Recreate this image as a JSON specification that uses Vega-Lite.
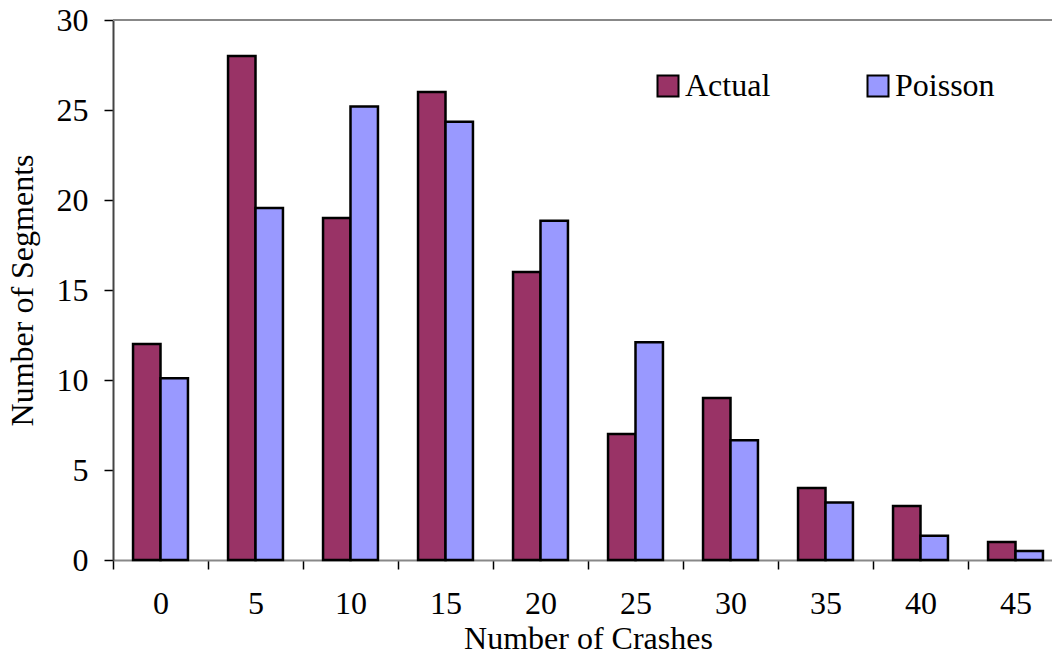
{
  "$schema": "https://vega.github.io/schema/vega-lite/v6.json",
  "autosize": {"type": "none"},
  "padding": {"left": 113, "top": 20, "right": 0, "bottom": 100},
  "width": 939,
  "height": 540,
  "config": {
    "view": {"stroke": null},
    "font": "Liberation Serif",
    "axis": {"labelFont": "Liberation Serif", "titleFont": "Liberation Serif", "labelColor": "#000", "titleColor": "#000", "titleFontWeight": "normal", "labelFontSize": 32, "titleFontSize": 32, "tickColor": "#000", "tickWidth": 1.5, "tickSize": 9, "grid": false},
    "legend": {"labelFont": "Liberation Serif", "labelFontSize": 32, "labelColor": "#000"}
  },
  "data": {
    "values": [
      {"crashes": 0, "series": "Actual", "segments": 12},
      {"crashes": 0, "series": "Poisson", "segments": 10.1},
      {"crashes": 5, "series": "Actual", "segments": 28},
      {"crashes": 5, "series": "Poisson", "segments": 19.55},
      {"crashes": 10, "series": "Actual", "segments": 19},
      {"crashes": 10, "series": "Poisson", "segments": 25.2},
      {"crashes": 15, "series": "Actual", "segments": 26},
      {"crashes": 15, "series": "Poisson", "segments": 24.35},
      {"crashes": 20, "series": "Actual", "segments": 16},
      {"crashes": 20, "series": "Poisson", "segments": 18.85},
      {"crashes": 25, "series": "Actual", "segments": 7},
      {"crashes": 25, "series": "Poisson", "segments": 12.1},
      {"crashes": 30, "series": "Actual", "segments": 9},
      {"crashes": 30, "series": "Poisson", "segments": 6.65},
      {"crashes": 35, "series": "Actual", "segments": 4},
      {"crashes": 35, "series": "Poisson", "segments": 3.2},
      {"crashes": 40, "series": "Actual", "segments": 3},
      {"crashes": 40, "series": "Poisson", "segments": 1.35},
      {"crashes": 45, "series": "Actual", "segments": 1},
      {"crashes": 45, "series": "Poisson", "segments": 0.5}
    ]
  },
  "layer": [
    {
      "mark": {"type": "rule", "color": "#888", "strokeWidth": 2},
      "encoding": {"y": {"datum": 30, "type": "quantitative"}}
    },
    {
      "mark": {"type": "bar", "stroke": "#000", "strokeWidth": 2.5},
      "encoding": {
        "x": {
          "field": "crashes",
          "type": "ordinal",
          "scale": {"type": "band", "paddingInner": 0, "paddingOuter": 0, "range": [0, 950]},
          "axis": {"title": "Number of Crashes", "labelAngle": 0, "tickBand": "extent", "domainColor": "#888", "domainWidth": 2, "labelPadding": 19, "titlePadding": 4}
        },
        "xOffset": {"field": "series", "type": "nominal", "scale": {"paddingOuter": 0.73, "paddingInner": 0}},
        "y": {
          "field": "segments",
          "type": "quantitative",
          "scale": {"domain": [0, 30], "nice": false},
          "axis": {"title": "Number of Segments", "values": [0, 5, 10, 15, 20, 25, 30], "domainColor": "#444", "domainWidth": 2, "labelPadding": 16, "titlePadding": 17}
        },
        "fill": {
          "field": "series",
          "type": "nominal",
          "scale": {"domain": ["Actual", "Poisson"], "range": ["#993366", "#9999FF"]},
          "legend": {"title": null, "orient": "none", "direction": "horizontal", "legendX": 539, "legendY": 50, "symbolType": "square", "symbolSize": 441, "symbolStrokeColor": "#000", "symbolStrokeWidth": 2, "symbolOpacity": 1, "labelOffset": 1, "columnPadding": 91, "padding": 0}
        }
      }
    }
  ]
}
